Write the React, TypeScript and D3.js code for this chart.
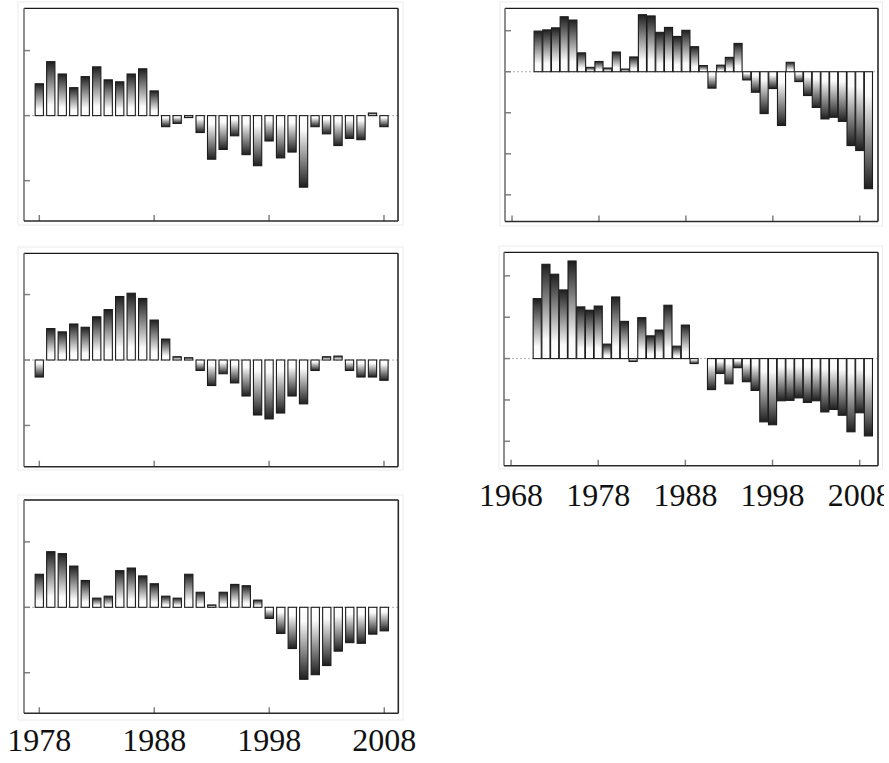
import React from "react";
import * as d3 from "d3";

// ---------- data ----------
const yearsLeft = d3.range(1978, 2009); // 1978..2008
const yearsRight = d3.range(1971, 2010); // 1971..2009

const valuesTopLeft = [0.49, 0.83, 0.64, 0.43, 0.6, 0.75, 0.55, 0.52, 0.64, 0.72, 0.38, -0.17, -0.12, -0.03, -0.26, -0.67, -0.52, -0.31, -0.6, -0.77, -0.39, -0.65, -0.56, -1.1, -0.17, -0.28, -0.46, -0.35, -0.37, 0.04, -0.17];
const valuesMidLeft = [-0.26, 0.48, 0.43, 0.55, 0.5, 0.66, 0.77, 0.97, 1.02, 0.94, 0.61, 0.32, 0.05, 0.035, -0.16, -0.39, -0.21, -0.35, -0.55, -0.84, -0.9, -0.81, -0.55, -0.67, -0.16, 0.05, 0.06, -0.16, -0.26, -0.26, -0.31];
const valuesBottomLeft = [0.505, 0.85, 0.82, 0.63, 0.41, 0.14, 0.17, 0.56, 0.6, 0.48, 0.36, 0.17, 0.14, 0.505, 0.23, 0.036, 0.23, 0.35, 0.33, 0.11, -0.17, -0.4, -0.63, -1.1, -1.03, -0.89, -0.67, -0.54, -0.55, -0.41, -0.36];
const valuesTopRight = [0.99, 1.02, 1.07, 1.34, 1.26, 0.46, 0.106, 0.25, 0.09, 0.48, 0.065, 0.36, 1.39, 1.36, 0.96, 1.08, 0.86, 1.01, 0.61, 0.15, -0.4, 0.16, 0.35, 0.69, -0.2, -0.5, -1.02, -0.41, -1.31, 0.23, -0.24, -0.58, -0.87, -1.15, -1.11, -1.21, -1.8, -1.92, -2.85];
const valuesMidRight = [1.45, 2.28, 2.04, 1.66, 2.36, 1.25, 1.17, 1.27, 0.35, 1.49, 0.9, -0.07, 0.99, 0.55, 0.69, 1.29, 0.3, 0.81, -0.12, 0, -0.75, -0.36, -0.61, -0.22, -0.56, -0.77, -1.53, -1.6, -1.02, -1.01, -0.95, -1.06, -1.02, -1.29, -1.23, -1.37, -1.77, -1.31, -1.87];

const leftTickYears = [1978, 1988, 1998, 2008];
const rightTickYears = [1968, 1978, 1988, 1998, 2008];
const leftYTicks = [-1, 0, 1];
const topRightYTicks = [1, 0, -1, -2, -3];
const midRightYTicks = [2, 1, 0, -1, -2];

type Box = { x0: number; y0: number; x1: number; y1: number };

type PanelProps = {
  id: string;
  frame: Box;
  outer: Box;
  xDomain: [number, number];
  yDomain: [number, number];
  years: number[];
  values: number[];
  xTicks: number[];
  yTicks: number[];
  barRatio: number;
  showLabels?: boolean;
  labelBaseline?: number;
  labelClip?: number;
};

function Panel(p: PanelProps) {
  const x = d3.scaleLinear().domain(p.xDomain).range([p.frame.x0, p.frame.x1]);
  const y = d3.scaleLinear().domain(p.yDomain).range([p.frame.y1, p.frame.y0]);
  const step = x(1) - x(0);
  const bw = step * p.barRatio;
  const y0 = y(0);
  const tickLen = 6;
  return (
    <g>
      <rect
        x={p.outer.x0}
        y={p.outer.y0}
        width={p.outer.x1 - p.outer.x0}
        height={p.outer.y1 - p.outer.y0}
        fill="none"
        stroke="#ececec"
        strokeWidth={1}
      />
      <line x1={p.frame.x0} x2={p.frame.x1} y1={y0} y2={y0} stroke="#b0b0b0" strokeWidth={1} strokeDasharray="2,2" />
      {p.years.map((yr, i) => {
        const v = p.values[i];
        if (v === 0) return null;
        const top = y(Math.max(0, v));
        const bot = y(Math.min(0, v));
        return (
          <rect
            key={yr}
            x={x(yr) - bw / 2}
            y={top}
            width={bw}
            height={Math.max(bot - top, 1)}
            fill={v > 0 ? "url(#gPos)" : "url(#gNeg)"}
            stroke="#1c1c1c"
            strokeWidth={1.1}
          />
        );
      })}
      {p.xTicks.map((t) => (
        <line key={"xt" + t} x1={x(t)} x2={x(t)} y1={p.frame.y1} y2={p.frame.y1 - tickLen} stroke="#808080" strokeWidth={1.5} />
      ))}
      {p.yTicks.map((t) => (
        <line key={"yt" + t} x1={p.frame.x0} x2={p.frame.x0 + tickLen} y1={y(t)} y2={y(t)} stroke="#808080" strokeWidth={1.5} />
      ))}
      <line x1={p.frame.x0} x2={p.frame.x1} y1={p.frame.y0} y2={p.frame.y0} stroke="#1a1a1a" strokeWidth={1.3} />
      <line x1={p.frame.x0} x2={p.frame.x0} y1={p.frame.y0} y2={p.frame.y1} stroke="#6a6a6a" strokeWidth={1.5} />
      <line x1={p.frame.x1} x2={p.frame.x1} y1={p.frame.y0} y2={p.frame.y1} stroke="#2a2a2a" strokeWidth={1.6} />
      <line x1={p.frame.x0} x2={p.frame.x1} y1={p.frame.y1} y2={p.frame.y1} stroke="#2a2a2a" strokeWidth={1.6} />
      {p.showLabels && (
        <g clipPath={p.labelClip ? `url(#clip-${p.id})` : undefined}>
          {p.xTicks.map((t) => (
            <text
              key={"lb" + t}
              x={x(t)}
              y={p.labelBaseline}
              textAnchor="middle"
              fontFamily="'Liberation Serif', 'Times New Roman', serif"
              fontSize={32}
              fill="#111"
            >
              {t}
            </text>
          ))}
        </g>
      )}
      {p.labelClip && (
        <clipPath id={`clip-${p.id}`}>
          <rect x={0} y={0} width={p.labelClip} height={763} />
        </clipPath>
      )}
    </g>
  );
}

export default function App() {
  const leftX: [number, number] = [1976.67, 2009.22];
  const rightX: [number, number] = [1967.19, 2010.1];
  return (
    <svg
      width={889}
      height={763}
      style={{ position: "absolute", left: 0, top: 0, background: "#fff" }}
    >
      <defs>
        <linearGradient id="gPos" x1="0" y1="0" x2="0" y2="1">
          <stop offset="0" stopColor="#1e1e1e" />
          <stop offset="0.8" stopColor="#fafafa" />
          <stop offset="1" stopColor="#ffffff" />
        </linearGradient>
        <linearGradient id="gNeg" x1="0" y1="1" x2="0" y2="0">
          <stop offset="0" stopColor="#1e1e1e" />
          <stop offset="0.8" stopColor="#fafafa" />
          <stop offset="1" stopColor="#ffffff" />
        </linearGradient>
      </defs>
      <Panel
        id="p1"
        frame={{ x0: 24, y0: 8.3, x1: 398, y1: 221 }}
        outer={{ x0: 18, y0: 2, x1: 403, y1: 225 }}
        xDomain={leftX}
        yDomain={[-1.62, 1.65]}
        years={yearsLeft}
        values={valuesTopLeft}
        xTicks={leftTickYears}
        yTicks={leftYTicks}
        barRatio={0.72}
      />
      <Panel
        id="p2"
        frame={{ x0: 505, y0: 8.3, x1: 878, y1: 221.5 }}
        outer={{ x0: 500, y0: 2, x1: 882.5, y1: 226 }}
        xDomain={rightX}
        yDomain={[-3.65, 1.546]}
        years={yearsRight}
        values={valuesTopRight}
        xTicks={rightTickYears}
        yTicks={topRightYTicks}
        barRatio={0.93}
      />
      <Panel
        id="p3"
        frame={{ x0: 24, y0: 253.3, x1: 398, y1: 466.7 }}
        outer={{ x0: 18, y0: 247, x1: 403, y1: 470 }}
        xDomain={leftX}
        yDomain={[-1.63, 1.63]}
        years={yearsLeft}
        values={valuesMidLeft}
        xTicks={leftTickYears}
        yTicks={leftYTicks}
        barRatio={0.72}
      />
      <Panel
        id="p4"
        frame={{ x0: 504, y0: 252.3, x1: 878, y1: 465.7 }}
        outer={{ x0: 499, y0: 246, x1: 882.5, y1: 469 }}
        xDomain={rightX}
        yDomain={[-2.59, 2.57]}
        years={yearsRight}
        values={valuesMidRight}
        xTicks={rightTickYears}
        yTicks={midRightYTicks}
        barRatio={0.93}
        showLabels
        labelBaseline={506}
        labelClip={884}
      />
      <Panel
        id="p5"
        frame={{ x0: 24, y0: 500, x1: 398.3, y1: 713.3 }}
        outer={{ x0: 18, y0: 495, x1: 403, y1: 720 }}
        xDomain={leftX}
        yDomain={[-1.62, 1.64]}
        years={yearsLeft}
        values={valuesBottomLeft}
        xTicks={leftTickYears}
        yTicks={leftYTicks}
        barRatio={0.72}
        showLabels
        labelBaseline={751}
      />
    </svg>
  );
}
